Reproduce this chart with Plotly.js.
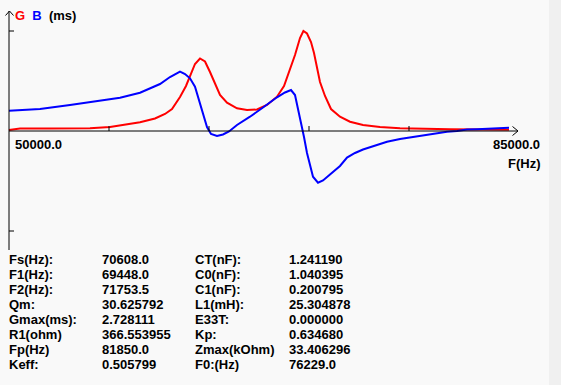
<!DOCTYPE html>
<html>
<head>
<meta charset="utf-8">
<script src="https://cdn.plot.ly/plotly-3.0.1.min.js"></script>
<style>
html,body{margin:0;padding:0;background:#f9f9f9;}
#chart{width:561px;height:385px;}
</style>
</head>
<body>
<div id="chart"></div>
<script>
// Frequency (Hz) for G curve
var freqG = [50000,50770,52870,55670,57070,58120,59170,60220,60920,61410,61970,62390,62670,63020,63370,63720,64070,64420,64770,65260,65960,66660,67360,68060,68760,69250,69670,70020,70370,70608,70860,71140,71350,71560,71770,72120,72540,73170,73870,74780,75970,77370,78770,80870,82970,85000];
// Conductance G (ms)
var valG = [0.027,0.068,0.068,0.074,0.109,0.164,0.237,0.341,0.464,0.600,0.928,1.228,1.500,1.828,1.978,1.896,1.610,1.282,0.982,0.772,0.619,0.573,0.587,0.709,0.936,1.228,1.664,2.073,2.537,2.728,2.660,2.428,2.128,1.746,1.337,0.955,0.600,0.390,0.254,0.164,0.109,0.074,0.055,0.046,0.038,0.035];
// Frequency (Hz) for B curve
var freqB = [50000,52170,54270,56370,57770,59170,60570,61270,61690,61970,62320,62670,63020,63370,63650,63860,64140,64560,64980,65400,65960,66870,67780,68760,69320,69740,70020,70230,70440,70650,70860,71070,71280,71630,71980,72470,73170,73660,74220,74780,75620,76460,77370,78070,79120,79960,80660,81360,82060,82760,83670,84370,85000];
// Susceptance B (ms)
var valB = [0.554,0.600,0.709,0.827,0.908,1.045,1.282,1.473,1.569,1.618,1.555,1.438,1.208,0.737,0.355,0.109,-0.082,-0.136,-0.095,-0.014,0.164,0.390,0.641,0.919,1.050,1.118,0.982,0.627,0.191,-0.164,-0.600,-0.955,-1.247,-1.410,-1.350,-1.187,-0.955,-0.723,-0.600,-0.505,-0.396,-0.292,-0.218,-0.172,-0.109,-0.063,-0.019,0,0.041,0.049,0.068,0.082,0.090];

var xTicks = [57000,64000,71000,78000];
var xMinLabel = "50000.0";
var xMaxLabel = "85000.0";
var xTitle = "F(Hz)";

var col1Labels = ["Fs(Hz):","F1(Hz):","F2(Hz):","Qm:","Gmax(ms):","R1(ohm)","Fp(Hz)","Keff:"];
var col1Values = ["70608.0","69448.0","71753.5","30.625792","2.728111","366.553955","81850.0","0.505799"];
var col2Labels = ["CT(nF):","C0(nF):","C1(nF):","L1(mH):","E33T:","Kp:","Zmax(kOhm)","F0:(Hz)"];
var col2Values = ["1.241190","1.040395","0.200795","25.304878","0.000000","0.634680","33.406296","76229.0"];

var W = 561, H = 385;
function px(x){ return x / W; }
function py(y){ return 1 - y / H; }

var font = {family: "Liberation Sans, Arial, sans-serif", size: 13, color: "#000000", weight: "bold"};

var traces = [
  {x: freqG, y: valG, type: "scatter", mode: "lines", line: {color: "#ff0000", width: 2}, hoverinfo: "skip"},
  {x: freqB, y: valB, type: "scatter", mode: "lines", line: {color: "#0000ff", width: 2}, hoverinfo: "skip"}
];

var shapes = [];
function pline(x0,y0,x1,y1){
  shapes.push({type:"line", xref:"paper", yref:"paper", x0:px(x0), y0:py(y0), x1:px(x1), y1:py(y1), line:{color:"#000000", width:1}});
}
// x axis (at y = 0) and y axis (at x = 50000) in data coordinates
shapes.push({type:"line", xref:"x", yref:"y", x0:50000, y0:0, x1:85630, y1:0, line:{color:"#000", width:1}});
shapes.push({type:"line", xref:"x", yref:"paper", x0:50000, y0:py(11), x1:50000, y1:py(250), line:{color:"#000", width:1}});
// x ticks
xTicks.forEach(function(t){
  shapes.push({type:"line", xref:"x", yref:"paper", x0:t, y0:py(131), x1:t, y1:py(126), line:{color:"#000", width:1}});
});
// y ticks at +/- Gmax scale
shapes.push({type:"line", xref:"paper", yref:"y", x0:px(9), y0:2.728, x1:px(14), y1:2.728, line:{color:"#000", width:1}});
shapes.push({type:"line", xref:"paper", yref:"y", x0:px(9), y0:-2.728, x1:px(14), y1:-2.728, line:{color:"#000", width:1}});
// arrows
pline(512.5,126.5,518,131); pline(512.5,135.5,518,131);
pline(5.5,15.5,9.5,11); pline(13.5,15.5,9.5,11);
// right strip
shapes.push({type:"rect", xref:"paper", yref:"paper", x0:px(549), x1:1, y0:0, y1:1, fillcolor:"#f0f0f0", line:{width:0}, layer:"below"});

var ann = [];
function text(t, x, y, xa){
  ann.push({text:t, xref:"paper", yref:"paper", x:px(x), y:py(y), xanchor:xa||"left", yanchor:"middle", showarrow:false, font:font, borderpad:0});
}
text('<span style="color:#ff0000">G</span>&nbsp; <span style="color:#0000ff">B</span>&nbsp; (ms)', 14, 15);
text(xMinLabel, 14, 144);
text(xMaxLabel, 541, 144, "right");
text(xTitle, 542, 164, "right");
for (var i = 0; i < col1Labels.length; i++){
  var yy = 259.5 + 15 * i;
  text(col1Labels[i], 7.5, yy);
  text(col1Values[i], 101, yy);
  text(col2Labels[i], 193.5, yy);
  text(col2Values[i], 287.5, yy);
}

var layout = {
  width: W, height: H,
  margin: {l:0, r:0, t:0, b:0, pad:0},
  paper_bgcolor: "#f9f9f9", plot_bgcolor: "#f9f9f9",
  showlegend: false,
  xaxis: {range:[49370, 88640], visible:false, fixedrange:true},
  yaxis: {range:[-6.929, 3.5737], visible:false, fixedrange:true},
  shapes: shapes,
  annotations: ann
};

Plotly.newPlot("chart", traces, layout, {staticPlot:true, displayModeBar:false});
</script>
</body>
</html>
